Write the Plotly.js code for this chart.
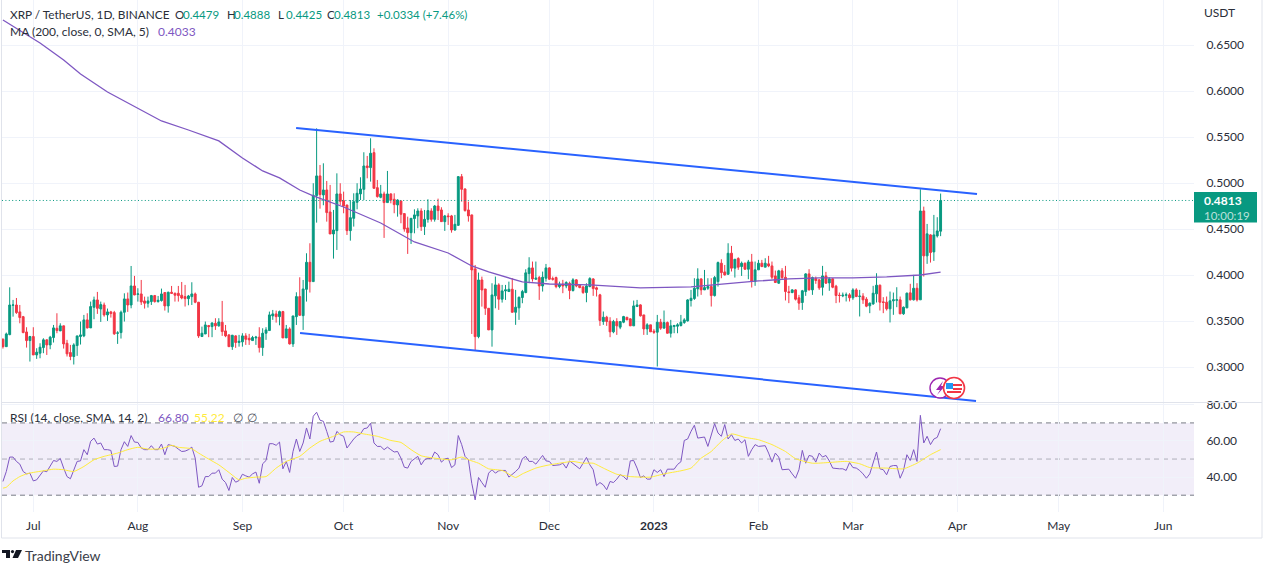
<!DOCTYPE html>
<html><head><meta charset="utf-8">
<script src="https://cdn.plot.ly/plotly-3.0.1.min.js"></script>
<style>html,body{margin:0;padding:0;background:#fff;overflow:hidden}#c{width:1273px;height:574px}</style>
</head><body><div id="c"></div>
<script>
const firstDate = '2022-06-22';
const opens = [
.3304,.3224,.3355,.3674,.3677,.3602,.3550,.3384,.3290,.3334,
.3134,.3153,.3214,.3298,.3243,.3323,.3424,.3395,.3450,.3261,
.3160,.3117,.3236,.3334,.3341,.3515,.3428,.3652,.3732,.3634,
.3677,.3569,.3602,.3594,.3370,.3377,.3598,.3743,.3677,.3884,
.3793,.3797,.3721,.3696,.3714,.3779,.3714,.3725,.3812,.3667,
.3815,.3804,.3804,.3783,.3768,.3746,.3768,.3797,.3707,.3334,
.3362,.3453,.3442,.3478,.3450,.3489,.3395,.3352,.3224,.3341,
.3269,.3276,.3341,.3315,.3290,.3319,.3327,.3214,.3370,.3399,
.3558,.3580,.3550,.3605,.3319,.3417,.3254,.3550,.3768,.3561,
.3847,.4141,.3931,.4866,.5080,.4873,.4927,.4688,.4449,.4485,
.4884,.4811,.4764,.4485,.4619,.4793,.4884,.4934,.5188,.5170,
.5333,.4952,.4848,.4884,.4790,.4884,.4826,.4764,.4808,.4670,
.4514,.4463,.4616,.4645,.4699,.4529,.4608,.4699,.4608,.4753,
.4710,.4583,.4645,.4645,.4492,.4543,.5072,.4938,.4710,.4656,
.4069,.3333,.3949,.3851,.3641,.3406,.3776,.3895,.3740,.3830,
.3823,.3848,.3598,.3646,.3758,.3812,.4018,.4080,.3957,.3975,
.3884,.3968,.4080,.3964,.3975,.3877,.3903,.3884,.3913,.3834,
.3950,.3892,.3874,.3812,.3877,.3960,.3863,.3787,.3497,.3544,
.3501,.3385,.3497,.3436,.3490,.3544,.3526,.3450,.3660,.3678,
.3569,.3417,.3461,.3392,.3381,.3490,.3425,.3486,.3370,.3443,
.3446,.3454,.3486,.3504,.3725,.3747,.3852,.3960,.3841,.3859,
.3877,.3779,.3931,.4131,.4036,.4011,.4240,.4077,.4182,.4095,
.4131,.4066,.4145,.3932,.4059,.4131,.4088,.4124,.4102,.3993,
.3914,.4048,.3979,.3820,.3812,.3841,.3755,.3704,.3823,.4015,
.3841,.3964,.3950,.3870,.3993,.3917,.3961,.3881,.3783,.3776,
.3783,.3787,.3755,.3841,.3769,.3773,.3740,.3668,.3689,.3798,
.3892,.3711,.3707,.3635,.3722,.3729,.3733,.3581,.3646,.3809,
.3733,.3859,.3733,.4699,.4211,.4439,.4254,.4428,.4479];
const highs = [
.3315,.3377,.3869,.3732,.3753,.3677,.3558,.3435,.3341,.3435,
.3207,.3261,.3315,.3304,.3341,.3460,.3587,.3478,.3453,.3298,
.3243,.3261,.3341,.3497,.3569,.3587,.3714,.3768,.3819,.3714,
.3703,.3638,.3613,.3613,.3392,.3616,.3804,.3812,.4101,.3993,
.3859,.3949,.3768,.3768,.3786,.3786,.3775,.3855,.3812,.3822,
.3884,.3812,.3884,.3927,.3895,.3786,.3924,.3812,.3710,.3442,
.3497,.3460,.3486,.3533,.3533,.3721,.3460,.3359,.3352,.3348,
.3352,.3370,.3370,.3363,.3341,.3341,.3435,.3424,.3435,.3605,
.3623,.3616,.3616,.3613,.3460,.3435,.3558,.3815,.3978,.3949,
.4239,.4348,.5000,.5597,.5199,.5217,.5025,.4982,.4710,.5108,
.5000,.4909,.4764,.4818,.4891,.5000,.5065,.5337,.5297,.5489,
.5380,.5036,.4982,.4909,.5134,.4891,.4891,.4826,.4811,.4674,
.4637,.4619,.4717,.4728,.4728,.4710,.4826,.4728,.4764,.4833,
.4739,.4656,.4674,.4656,.4656,.5079,.5101,.4945,.4800,.4659,
.4112,.4029,.3985,.3851,.3641,.3913,.3986,.3913,.3895,.3895,
.3931,.3968,.3841,.3768,.3841,.4065,.4196,.4149,.4149,.3993,
.4040,.4123,.4087,.3986,.3986,.3931,.3950,.3935,.3931,.3968,
.3957,.3895,.3877,.3913,.3979,.3968,.3877,.3798,.3606,.3559,
.3544,.3515,.3533,.3497,.3559,.3544,.3533,.3725,.3732,.3685,
.3569,.3479,.3461,.3414,.3569,.3526,.3617,.3497,.3515,.3461,
.3479,.3569,.3533,.3740,.3841,.3968,.4076,.3968,.4058,.3968,
.3968,.3993,.4149,.4174,.4112,.4348,.4319,.4174,.4196,.4149,
.4138,.4167,.4232,.4149,.4167,.4167,.4185,.4211,.4149,.4051,
.4059,.4077,.4102,.3885,.3849,.3849,.3787,.3841,.4022,.4066,
.3986,.3986,.3957,.4102,.4037,.3979,.3968,.3896,.3812,.3812,
.3812,.3805,.3859,.3859,.3841,.3805,.3762,.3704,.3885,.4022,
.3899,.3762,.3769,.3823,.3812,.3870,.3769,.3660,.3812,.3907,
.4004,.3914,.4935,.4746,.4558,.4446,.4656,.4631,.4888];
const lows = [
.3203,.3224,.3348,.3550,.3580,.3478,.3370,.3214,.3062,.3134,
.3091,.3098,.3153,.3134,.3196,.3269,.3370,.3395,.3203,.3117,
.3077,.3030,.3124,.3247,.3327,.3421,.3428,.3522,.3580,.3493,
.3550,.3504,.3540,.3352,.3254,.3312,.3497,.3602,.3641,.3783,
.3714,.3677,.3638,.3649,.3677,.3703,.3703,.3714,.3616,.3594,
.3797,.3714,.3714,.3739,.3660,.3674,.3677,.3696,.3319,.3334,
.3362,.3327,.3327,.3406,.3442,.3341,.3327,.3224,.3189,.3211,
.3224,.3224,.3243,.3243,.3290,.3243,.3160,.3124,.3298,.3399,
.3515,.3485,.3456,.3319,.3319,.3247,.3221,.3460,.3558,.3406,
.3714,.3812,.3931,.4572,.4724,.4761,.4583,.4449,.4181,.4275,
.4764,.4674,.4438,.4376,.4529,.4717,.4818,.4818,.5054,.5018,
.4945,.4844,.4837,.4406,.4790,.4782,.4674,.4637,.4565,.4474,
.4232,.4340,.4456,.4511,.4482,.4438,.4572,.4583,.4583,.4601,
.4579,.4482,.4547,.4463,.4485,.4536,.4800,.4692,.4583,.3362,
.3181,.3315,.3659,.3569,.3406,.3224,.3641,.3624,.3703,.3732,
.3823,.3595,.3461,.3515,.3696,.3805,.3913,.3931,.3950,.3732,
.3823,.3931,.3950,.3942,.3859,.3859,.3805,.3859,.3740,.3823,
.3870,.3859,.3798,.3707,.3870,.3776,.3769,.3450,.3461,.3450,
.3327,.3370,.3352,.3414,.3479,.3515,.3450,.3450,.3660,.3551,
.3352,.3352,.3385,.3363,.3008,.3407,.3425,.3367,.3323,.3370,
.3370,.3443,.3472,.3497,.3660,.3732,.3769,.3787,.3841,.3841,
.3660,.3769,.3877,.3968,.3997,.4004,.4041,.3975,.4059,.3993,
.4059,.3957,.3867,.3885,.4059,.4088,.4088,.4088,.3957,.3921,
.3907,.3950,.3726,.3697,.3805,.3726,.3624,.3624,.3776,.3834,
.3787,.3907,.3841,.3780,.3907,.3831,.3859,.3697,.3704,.3762,
.3715,.3715,.3733,.3762,.3552,.3689,.3653,.3588,.3678,.3704,
.3617,.3588,.3617,.3487,.3570,.3653,.3577,.3570,.3642,.3726,
.3726,.3715,.3733,.3986,.4124,.4138,.4156,.4410,.4425];
const closes = [
.3224,.3362,.3677,.3677,.3594,.3540,.3377,.3290,.3334,.3134,
.3164,.3218,.3298,.3243,.3327,.3428,.3399,.3450,.3254,.3146,
.3117,.3243,.3341,.3352,.3515,.3428,.3660,.3732,.3641,.3681,
.3569,.3602,.3584,.3363,.3373,.3598,.3743,.3677,.3884,.3786,
.3797,.3710,.3696,.3721,.3779,.3714,.3728,.3797,.3667,.3815,
.3804,.3783,.3779,.3753,.3746,.3775,.3797,.3707,.3341,.3370,
.3460,.3442,.3482,.3450,.3493,.3388,.3341,.3224,.3348,.3269,
.3283,.3341,.3304,.3298,.3323,.3327,.3214,.3370,.3406,.3569,
.3580,.3550,.3605,.3319,.3417,.3254,.3558,.3768,.3565,.3851,
.4141,.3931,.4869,.5080,.4877,.4927,.4681,.4449,.4492,.4884,
.4804,.4753,.4485,.4626,.4800,.4891,.4938,.5188,.5170,.5326,
.4945,.4855,.4884,.4790,.4884,.4818,.4768,.4818,.4663,.4503,
.4463,.4619,.4656,.4699,.4529,.4608,.4703,.4608,.4753,.4703,
.4583,.4645,.4637,.4492,.4554,.5072,.4934,.4703,.4645,.4058,
.3333,.3949,.3840,.3641,.3406,.3786,.3895,.3740,.3830,.3841,
.3848,.3598,.3653,.3761,.3823,.4026,.4080,.3960,.3968,.3884,
.3979,.4080,.3957,.3957,.3877,.3903,.3884,.3921,.3834,.3950,
.3884,.3866,.3812,.3884,.3964,.3855,.3848,.3508,.3544,.3497,
.3385,.3497,.3450,.3497,.3551,.3515,.3450,.3667,.3678,.3559,
.3417,.3461,.3385,.3381,.3490,.3425,.3486,.3370,.3450,.3454,
.3461,.3490,.3515,.3732,.3750,.3859,.3960,.3841,.3866,.3877,
.3779,.3975,.4138,.4029,.4004,.4239,.4077,.4174,.4088,.4131,
.4066,.4145,.3932,.4059,.4131,.4095,.4131,.4102,.3979,.3921,
.4048,.3975,.3823,.3812,.3841,.3740,.3697,.3831,.4015,.3841,
.3975,.3943,.3863,.3993,.3914,.3961,.3870,.3780,.3780,.3783,
.3787,.3755,.3841,.3769,.3773,.3733,.3664,.3697,.3805,.3892,
.3707,.3704,.3635,.3722,.3733,.3733,.3581,.3653,.3805,.3733,
.3859,.3733,.4699,.4211,.4450,.4247,.4439,.4482,.4813];
const rsiValues = [
37.6,43.1,51.1,51.1,48.7,47.2,43.1,41.8,42.2,37.9,
38.5,40.7,43.5,43.0,45.9,49.2,48.7,50.3,45.0,40.3,
39.1,44.1,48.7,49.0,55.2,52.4,59.8,61.6,58.3,58.9,
55.2,55.2,54.8,45.9,46.1,55.2,59.6,57.0,63.0,59.4,
59.2,56.1,55.2,55.2,57.4,55.2,55.2,58.3,52.4,58.0,
57.6,57.0,55.5,54.2,54.4,55.2,56.6,50.5,34.4,35.2,
40.3,40.3,42.2,42.2,44.1,38.9,37.0,32.6,39.8,37.2,
38.1,41.6,40.7,40.0,41.8,42.8,36.6,47.4,49.2,58.5,
58.5,57.6,59.4,44.6,48.7,42.6,54.2,61.1,54.2,58.9,
67.2,61.1,73.7,75.9,71.5,70.9,65.3,59.4,59.8,65.3,
63.5,62.6,56.1,58.9,61.1,63.0,63.9,66.8,67.2,69.8,
58.9,57.0,57.0,55.2,56.6,55.2,53.9,54.2,50.5,45.5,
45.0,48.7,50.0,51.5,46.8,49.6,50.5,50.0,53.9,52.4,
48.3,50.0,50.5,45.3,46.8,63.0,58.0,51.5,49.6,36.6,27.4,
39.8,37.0,34.4,42.2,44.1,42.2,43.5,43.7,43.7,40.0,
41.3,43.1,45.0,50.2,51.5,48.7,48.7,47.2,49.6,52.0,
49.0,48.7,46.4,46.8,46.8,47.7,45.0,49.0,47.7,46.4,
44.6,47.7,50.9,46.8,44.1,35.3,37.0,35.7,33.0,37.6,
37.0,38.9,41.4,40.3,38.5,49.0,49.2,45.0,39.8,40.7,
38.9,38.9,44.1,42.6,44.1,40.3,44.4,44.4,44.4,47.0,
48.5,60.3,61.1,65.3,68.7,61.6,62.0,62.2,57.0,63.5,
69.6,64.4,62.6,69.1,61.1,63.5,60.3,61.1,58.9,60.7,
51.5,55.2,58.0,57.0,57.4,57.4,53.3,48.3,53.3,51.1,
44.1,44.1,44.4,41.8,39.4,44.1,54.8,47.7,52.0,51.5,
48.3,53.3,51.1,52.0,49.0,45.0,44.6,44.6,44.6,43.7,
48.1,45.3,45.0,43.7,41.8,39.4,41.8,47.7,53.9,44.6,
44.1,41.3,45.9,46.4,46.4,39.4,43.7,52.4,49.2,55.2,
48.7,74.2,58.9,62.6,58.0,61.1,62.0,66.8];
const rsiSmaDates = ['2022-06-22','2022-06-23','2022-06-25','2022-06-27','2022-06-29','2022-07-01','2022-07-04','2022-07-07','2022-07-10','2022-07-13','2022-07-16','2022-07-19','2022-07-22','2022-07-26','2022-07-29','2022-08-01','2022-08-04','2022-08-08','2022-08-11','2022-08-13','2022-08-17','2022-08-19','2022-08-22','2022-08-25','2022-08-28','2022-08-31','2022-09-02','2022-09-05','2022-09-08','2022-09-11','2022-09-14','2022-09-18','2022-09-21','2022-09-24','2022-09-28','2022-10-01','2022-10-04','2022-10-07','2022-10-11','2022-10-15','2022-10-18','2022-10-21','2022-10-24','2022-10-28','2022-11-02','2022-11-05','2022-11-07','2022-11-10','2022-11-13','2022-11-17','2022-11-21','2022-11-23','2022-11-27','2022-11-30','2022-12-04','2022-12-08','2022-12-11','2022-12-14','2022-12-17','2022-12-21','2022-12-25','2022-12-31','2023-01-04','2023-01-09','2023-01-12','2023-01-15','2023-01-18','2023-01-21','2023-01-24','2023-01-28','2023-02-01','2023-02-05','2023-02-09','2023-02-12','2023-02-17','2023-02-22','2023-02-27','2023-03-03','2023-03-06','2023-03-11','2023-03-16','2023-03-20','2023-03-24','2023-03-27'];
const rsiSmaValues = [33.9,34.4,37.9,40.3,41.8,42.6,43.5,44.4,44.1,43.1,45.9,49.6,51.5,53.3,55.2,56.5,55.5,55.7,57.6,56.5,55.7,53.3,50.0,46.8,42.6,38.5,39.4,40.0,40.3,45.0,48.7,51.5,56.1,59.8,62.6,65.0,65.0,63.9,62.6,60.3,59.2,55.2,51.8,50.5,49.6,51.1,49.6,47.7,44.6,43.7,39.8,41.8,45.0,46.4,47.7,48.7,47.7,47.7,45.0,41.6,40.3,40.0,41.8,43.5,45.0,50.5,54.2,59.8,63.9,62.0,60.7,58.0,54.2,50.2,47.7,48.1,48.7,47.4,45.3,45.0,44.6,47.7,52.4,55.22];
const maDates = ['2022-06-22','2022-07-01','2022-07-03','2022-07-10','2022-07-15','2022-07-23','2022-08-01','2022-08-08','2022-08-16','2022-08-25','2022-09-01','2022-09-07','2022-09-12','2022-09-18','2022-09-22','2022-10-01','2022-10-12','2022-10-22','2022-11-01','2022-11-08','2022-11-13','2022-11-23','2022-12-01','2022-12-13','2022-12-23','2022-12-28','2023-01-12','2023-01-21','2023-02-01','2023-02-10','2023-02-19','2023-03-01','2023-03-11','2023-03-21','2023-03-27'];
const maValues = [.6775,.6568,.6525,.6340,.6188,.5992,.5818,.5677,.5579,.5460,.5275,.5134,.5058,.4927,.4862,.4742,.4568,.4362,.4242,.4101,.4036,.3927,.3905,.3895,.3873,.3862,.3873,.3905,.3938,.3960,.3971,.3971,.3982,.4003,.4033];
const upperDates = ['2022-09-16 22:00','2023-04-06 19:00'];
const upperValues = [.5601,.4884];
const lowerDates = ['2022-09-18 02:00','2023-04-06 12:00'];
const lowerValues = [.3373,.2634];
const priceTicks = [.30,.35,.40,.45,.50,.55,.60,.65];
const rsiTicks = [40,60,80];
const monthTicks = ['2022-07-01','2022-08-01','2022-09-01','2022-10-01','2022-11-01','2022-12-01','2023-01-01','2023-02-01','2023-03-01','2023-04-01','2023-05-01','2023-06-01'];
const monthLabels = ['Jul','Aug','Sep','Oct','Nov','Dec','<b>2023</b>','Feb','Mar','Apr','May','Jun'];
const lastClose = .4813;
const GREEN='#089981', RED='#f23645', PURPLE='#7e57c2', YELLOW='#ffeb3b', TEXT='#2a2e39', GRID='#f0f3fa', FONT='Lato, sans-serif';

const dates = opens.map((_, i) => {
  const d = new Date(firstDate + 'T00:00:00Z'); d.setUTCDate(d.getUTCDate() + i);
  return d.toISOString().slice(0, 10);
});
const PW=1192, PH=512;
const px = X => (X-2)/PW, py = Y => 1-Y/PH;

const traces = [
 {type:'candlestick',x:dates,open:opens,high:highs,low:lows,close:closes,yaxis:'y',xaxis:'x',hoverinfo:'skip',
  increasing:{line:{color:GREEN,width:1},fillcolor:GREEN},decreasing:{line:{color:RED,width:1},fillcolor:RED},whiskerwidth:0},
 {type:'scatter',mode:'lines',x:maDates,y:maValues,yaxis:'y',line:{color:PURPLE,width:1.3},hoverinfo:'skip'},
 {type:'scatter',mode:'lines',x:upperDates,y:upperValues,yaxis:'y',line:{color:'#2962ff',width:2},hoverinfo:'skip'},
 {type:'scatter',mode:'lines',x:lowerDates,y:lowerValues,yaxis:'y',line:{color:'#2962ff',width:2},hoverinfo:'skip'},
 {type:'scatter',mode:'lines',x:dates,y:rsiValues,yaxis:'y2',line:{color:PURPLE,width:1},hoverinfo:'skip'},
 {type:'scatter',mode:'lines',x:rsiSmaDates,y:rsiSmaValues,yaxis:'y2',line:{color:YELLOW,width:1,shape:'spline',smoothing:.5},hoverinfo:'skip'}
];

const note=(text,X,Y,color,size)=>({text,xref:'paper',yref:'paper',x:px(X),y:py(Y),xanchor:'left',yanchor:'middle',showarrow:false,font:{family:FONT,size:size||12,color:color||TEXT},borderpad:0,borderwidth:0});
const annotations=[
 note('XRP / TetherUS, 1D, BINANCE',10,14,TEXT,11.8),
 note('O',175,14,TEXT,11.5),note('0.4479',183,14,GREEN,11.5),
 note('H',227,14,TEXT,11.5),note('0.4888',234,14,GREEN,11.5),
 note('L',278,14,TEXT,11.5),note('0.4425',286,14,GREEN,11.5),
 note('C',327,14,TEXT,11.5),note('0.4813',334,14,GREEN,11.5),
 note('+0.0334 (+7.46%)',377,14,GREEN,11.5),
 note('MA (200, close, 0, SMA, 5)',10,31),note('0.4033',158,31,PURPLE),
 note('RSI (14, close, SMA, 14, 2)',10,417),note('66.80',158,417,PURPLE),note('55.22',194,417,YELLOW),
 note('∅',233,417,'#50535e'),note('∅',247,417,'#50535e'),
 note('USDT',1204,12,TEXT,12),
 note('<b>0.4813</b>',1204,200,'#ffffff',12),
 note('10:00:19',1204,215,'rgba(255,255,255,.72)',11.5),
 note('TradingView',25,555,'#3a3e49',14)
];
const paperShape=o=>Object.assign({xref:'paper',yref:'paper'},o);
const rectPx=(x0,y0,x1,y1,color)=>paperShape({type:'rect',x0:px(x0),x1:px(x1),y0:py(y0),y1:py(y1),fillcolor:color,line:{width:0}});
const circlePx=(cx,cy,r,fill,lc,lw)=>paperShape({type:'circle',x0:px(cx-r),x1:px(cx+r),y0:py(cy-r),y1:py(cy+r),fillcolor:fill,line:{color:lc,width:lw}});
const pathPx=(pts,color)=>paperShape({type:'path',path:'M'+pts.map(p=>px(p[0])+','+py(p[1])).join('L')+'Z',fillcolor:color,line:{width:0}});
const shapes=[
 {type:'rect',xref:'paper',x0:0,x1:1,yref:'y2',y0:30,y1:70,fillcolor:'rgba(126,87,194,.1)',line:{width:0},layer:'below'},
 {type:'line',xref:'paper',x0:0,x1:1,yref:'y2',y0:70,y1:70,line:{color:'#787b86',width:1,dash:'5px,4px'},layer:'below'},
 {type:'line',xref:'paper',x0:0,x1:1,yref:'y2',y0:50,y1:50,line:{color:'rgba(120,123,134,.55)',width:1,dash:'5px,4px'},layer:'below'},
 {type:'line',xref:'paper',x0:0,x1:1,yref:'y2',y0:30,y1:30,line:{color:'#787b86',width:1,dash:'5px,4px'},layer:'below'},
 {type:'line',xref:'paper',x0:0,x1:1,yref:'y',y0:lastClose,y1:lastClose,line:{color:GREEN,width:1,dash:'1px,2.4px'}},
 paperShape({type:'line',x0:px(1.5),x1:px(1262),y0:py(402.5),y1:py(402.5),line:{color:'#e0e3eb',width:1}}),
 paperShape({type:'line',x0:px(1.5),x1:px(1262),y0:py(538),y1:py(538),line:{color:'#e0e3eb',width:1}}),
 paperShape({type:'line',x0:px(1.5),x1:px(1.5),y0:py(0),y1:py(538),line:{color:'#e0e3eb',width:1}}),
 paperShape({type:'line',x0:px(1262),x1:px(1262),y0:py(0),y1:py(538),line:{color:'#e0e3eb',width:1}}),
 rectPx(1194,192,1257,222.5,GREEN),
 circlePx(940,388,10,'#ffffff','#9c27b0',1.4),
 pathPx([[943,381],[936,390],[940,390],[937,395],[945,386],[941,386]],'#9c27b0'),
 circlePx(954,388,10.5,'#ffffff','#f23645',1.6),
 rectPx(946,383,953,389,'#2196f3'),
 rectPx(953,384,962,386,'#f23645'),
 rectPx(953,388,962,390,'#f23645'),
 rectPx(947,391,961,393,'#f23645'),
 rectPx(2,550,10,553,'#131722'), rectPx(6,553,10,558,'#131722'),
 circlePx(12.5,551.6,1.6,'#131722','#131722',0),
 pathPx([[16,550],[22,550],[18,558],[12.5,558]],'#131722')
];
const layout={
 width:1273,height:574,paper_bgcolor:'#fff',plot_bgcolor:'#fff',showlegend:false,
 margin:{l:2,r:79,t:0,b:62,pad:0},boxgap:.2,font:{family:FONT,size:12,color:TEXT},
 xaxis:{type:'date',range:['2022-06-21 17:18','2023-06-10 03:00'],rangeslider:{visible:false},tickmode:'array',tickvals:monthTicks,ticktext:monthLabels,
   showgrid:true,gridcolor:GRID,gridwidth:1,zeroline:false,showline:false,ticks:'outside',ticklen:3,tickcolor:'rgba(0,0,0,0)',tickfont:{family:FONT,size:12,color:TEXT},anchor:'y2',fixedrange:true},
 yaxis:{domain:[1-402.5/512,1],range:[.2617,.6992],side:'right',tickmode:'array',tickvals:priceTicks,ticktext:priceTicks.map(v=>v.toFixed(4)),
   showgrid:true,gridcolor:GRID,zeroline:false,showline:false,ticks:'outside',ticklen:9,tickcolor:'rgba(0,0,0,0)',tickfont:{family:FONT,size:12,color:TEXT},fixedrange:true},
 yaxis2:{domain:[0,1-402.5/512],range:[20.7,81.3],side:'right',tickmode:'array',tickvals:rsiTicks,ticktext:rsiTicks.map(v=>v.toFixed(2)),
   showgrid:true,gridcolor:GRID,zeroline:false,showline:false,ticks:'outside',ticklen:9,tickcolor:'rgba(0,0,0,0)',tickfont:{family:FONT,size:12,color:TEXT},fixedrange:true},
 annotations,shapes
};
Plotly.newPlot('c',traces,layout,{displayModeBar:false,staticPlot:true});
</script></body></html>
